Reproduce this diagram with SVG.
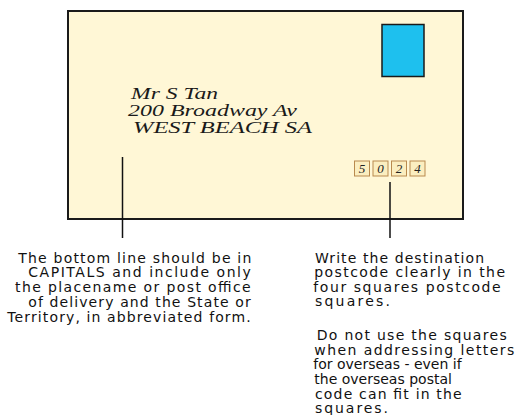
<svg xmlns="http://www.w3.org/2000/svg" width="516" height="415" viewBox="0 0 516 415">
<style>
.note{font-family:"DejaVu Sans","Verdana",sans-serif;font-size:14px;fill:#111}
.hand{font-family:"Liberation Serif","Times New Roman",serif;font-style:italic;font-size:17px;fill:#1a1a1a}
.digit{font-family:"Liberation Serif",serif;font-style:italic;font-size:13px;fill:#222;text-anchor:middle}
.box{fill:#fbeec0;stroke:#b98a4e;stroke-width:1}
.conn{stroke:#111;stroke-width:1.5;fill:none}
</style>
<rect width="516" height="415" fill="#ffffff"/>
<g id="envelope">
<rect x="68" y="11" width="395" height="208" fill="#fff7d6" stroke="#1a1a1a" stroke-width="2"/>
</g>
<g id="stamp">
<rect x="382" y="24.5" width="42" height="52" fill="#1ec0ee" stroke="#1a1a1a" stroke-width="1.5"/>
</g>
<g id="address">
<text class="hand" x="131" y="99" textLength="87" lengthAdjust="spacingAndGlyphs">Mr S Tan</text>
<text class="hand" x="128" y="116" textLength="169" lengthAdjust="spacingAndGlyphs">200 Broadway Av</text>
<text class="hand" x="133" y="133" textLength="179" lengthAdjust="spacingAndGlyphs">WEST BEACH SA</text>
</g>
<g id="postcode">
<rect class="box" x="354.5" y="161" width="15" height="15"/>
<rect class="box" x="373" y="161" width="15" height="15"/>
<rect class="box" x="391.5" y="161" width="15" height="15"/>
<rect class="box" x="410" y="161" width="15" height="15"/>
<text class="digit" x="362" y="173">5</text>
<text class="digit" x="380.5" y="173">0</text>
<text class="digit" x="399" y="173">2</text>
<text class="digit" x="417.5" y="173">4</text>
</g>
<g id="connectors">
<line class="conn" x1="122.5" y1="157" x2="122.5" y2="238"/>
<line class="conn" x1="390" y1="182" x2="390" y2="238"/>
</g>
<g id="note-left">
<text class="note" x="18.3" y="262.7" textLength="233" lengthAdjust="spacing">The bottom line should be in</text>
<text class="note" x="28.3" y="277.3" textLength="222.5" lengthAdjust="spacing">CAPITALS and include only</text>
<text class="note" x="15" y="292.3" textLength="235.7" lengthAdjust="spacing">the placename or post office</text>
<text class="note" x="28.3" y="306.7" textLength="222.4" lengthAdjust="spacing">of delivery and the State or</text>
<text class="note" x="7.3" y="321.7" textLength="243.4" lengthAdjust="spacing">Territory, in abbreviated form.</text>
</g>
<g id="note-right">
<text class="note" x="315" y="262.7" textLength="169" lengthAdjust="spacing">Write the destination</text>
<text class="note" x="314.3" y="277" textLength="190.7" lengthAdjust="spacing">postcode clearly in the</text>
<text class="note" x="313.3" y="291.7" textLength="187.4" lengthAdjust="spacing">four squares postcode</text>
<text class="note" x="315" y="306" textLength="75" lengthAdjust="spacing">squares.</text>
<text class="note" x="316.7" y="340" textLength="190" lengthAdjust="spacing">Do not use the squares</text>
<text class="note" x="314.3" y="354.5" textLength="200" lengthAdjust="spacing">when addressing letters</text>
<text class="note" x="313.3" y="369.3">for overseas - even if</text>
<text class="note" x="314.3" y="384.2">the overseas postal</text>
<text class="note" x="315" y="399" textLength="146.7" lengthAdjust="spacing">code can fit in the</text>
<text class="note" x="315" y="413" textLength="73" lengthAdjust="spacing">squares.</text>
</g>
</svg>
